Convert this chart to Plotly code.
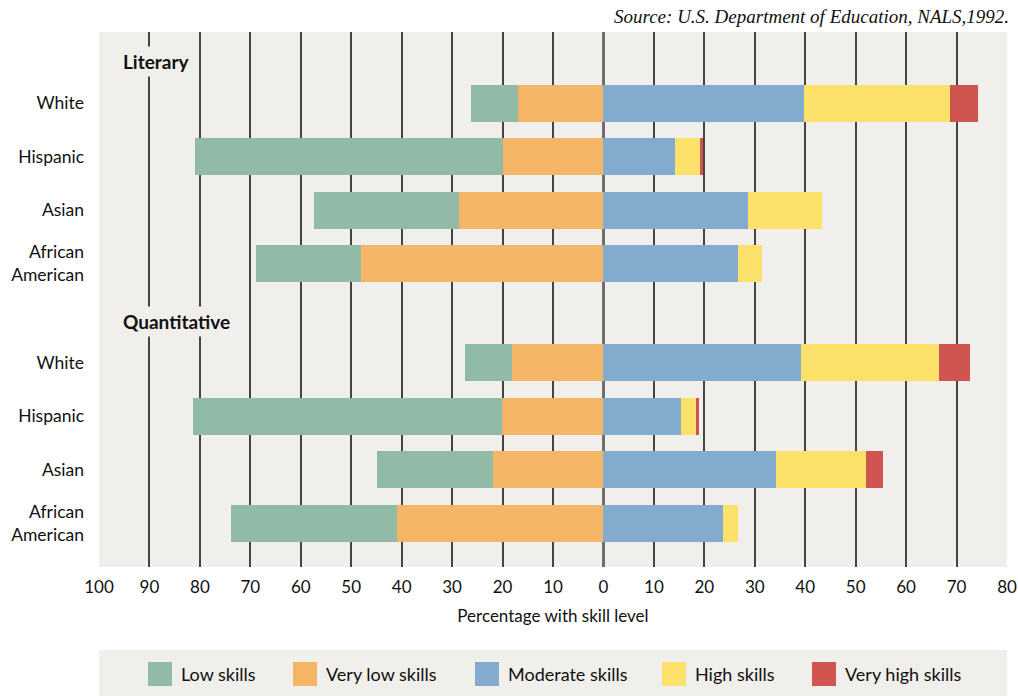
import plotly.graph_objects as go

# ---- data ----
groups = ["White", "Hispanic", "Asian", "African<br>American"]
sections = ["Literary", "Quantitative"]
y_pos_lit = [1, 2, 3, 4]
y_pos_quant = [5.85, 6.85, 7.85, 8.85]

series_names = ["Low skills", "Very low skills", "Moderate skills", "High skills", "Very high skills"]
series_colors = ["#91BBA6", "#F4B567", "#82ABCE", "#FCE26A", "#D05450"]

# Literary
lit_low = [9.2, 61.0, 28.7, 20.8]
lit_very_low = [17.0, 20.0, 28.6, 48.0]
lit_moderate = [39.7, 14.2, 28.7, 26.7]
lit_high = [29.0, 5.0, 14.6, 4.7]
lit_very_high = [5.6, 0.6, 0.0, 0.0]

# Quantitative
q_low = [9.3, 61.2, 23.0, 32.9]
q_very_low = [18.1, 20.1, 21.9, 40.9]
q_moderate = [39.2, 15.4, 34.2, 23.7]
q_high = [27.4, 3.0, 17.9, 3.0]
q_very_high = [6.0, 0.6, 3.4, 0.0]

tick_vals = [-100, -90, -80, -70, -60, -50, -40, -30, -20, -10, 0, 10, 20, 30, 40, 50, 60, 70, 80]
tick_text = [str(abs(v)) for v in tick_vals]

BG = "#F0EFEB"
FONT = "Lato"

ys = y_pos_lit + y_pos_quant
low = lit_low + q_low
very_low = lit_very_low + q_very_low
moderate = lit_moderate + q_moderate
high = lit_high + q_high
very_high = lit_very_high + q_very_high

fig = go.Figure()
# negative side: very low nearest zero, then low
fig.add_trace(go.Bar(y=ys, x=[-v for v in very_low], orientation="h", name=series_names[1],
                     marker=dict(color=series_colors[1], line=dict(width=0)), width=0.69))
fig.add_trace(go.Bar(y=ys, x=[-v for v in low], orientation="h", name=series_names[0],
                     marker=dict(color=series_colors[0], line=dict(width=0)), width=0.69))
fig.add_trace(go.Bar(y=ys, x=moderate, orientation="h", name=series_names[2],
                     marker=dict(color=series_colors[2], line=dict(width=0)), width=0.69))
fig.add_trace(go.Bar(y=ys, x=high, orientation="h", name=series_names[3],
                     marker=dict(color=series_colors[3], line=dict(width=0)), width=0.69))
fig.add_trace(go.Bar(y=ys, x=very_high, orientation="h", name=series_names[4],
                     marker=dict(color=series_colors[4], line=dict(width=0)), width=0.69))

FW, FH = 1018, 696
L, R, T, B = 99, 1007, 32, 567   # plot area in page pixels
fig.update_layout(
    width=FW, height=FH,
    barmode="relative",
    bargap=0,
    showlegend=False,
    paper_bgcolor="white",
    plot_bgcolor=BG,
    margin=dict(l=L, r=FW - R, t=T, b=FH - B, autoexpand=False),
    font=dict(family=FONT, size=17, color="#111"),
)
fig.update_xaxes(
    range=[-100, 80],
    tickvals=tick_vals, ticktext=tick_text,
    showgrid=True, gridcolor="#444", gridwidth=1.5,
    zeroline=True, zerolinecolor="#6e6e6e", zerolinewidth=2.5,
    ticks="", ticklabelstandoff=8, ticklabeloverflow="allow",
    tickfont=dict(family=FONT, size=17, color="#111"),
    title=dict(text="Percentage with skill level", font=dict(family=FONT, size=17, color="#111"), standoff=14),
    showline=False, fixedrange=True, automargin=False,
)
fig.update_yaxes(
    range=[9.67, -0.33],
    tickvals=ys, ticktext=groups + groups,
    showgrid=False, zeroline=False, ticks="", ticklabelstandoff=14,
    tickfont=dict(family=FONT, size=17.5, color="#111"), automargin=False,
    fixedrange=True,
)

# section headers
for name, yv in zip(sections, [0.23, 5.09]):
    fig.add_annotation(x=-96.0, y=yv, xref="x", yref="y", text="<b>" + name + "</b>",
                       showarrow=False, xanchor="left", yanchor="middle",
                       font=dict(family=FONT, size=19, color="#111"), bgcolor=BG, borderpad=3)

# page pixel -> paper helpers (paper refers to plot area)
def px(x):
    return (x - L) / (R - L)
def py(y):
    return (B - y) / (B - T)

# source
fig.add_annotation(x=px(1011), y=py(16), xref="paper", yref="paper",
                   text="<i>Source: U.S. Department of Education, NALS,1992.</i>",
                   showarrow=False, xanchor="right", yanchor="middle",
                   font=dict(family="Liberation Serif", size=19, color="#111"))

# manual legend box
fig.add_shape(type="rect", xref="paper", yref="paper", x0=px(99), x1=px(1007), y0=py(700), y1=py(650),
              fillcolor=BG, line=dict(width=0), layer="below")
swatch_x = [148, 293, 475, 662, 812]
for idx, sx in enumerate(swatch_x):
    fig.add_shape(type="rect", xref="paper", yref="paper", x0=px(sx), x1=px(sx + 24), y0=py(686), y1=py(662),
                  fillcolor=series_colors[idx], line=dict(width=0))
    fig.add_annotation(x=px(sx + 31), y=py(674), xref="paper", yref="paper", text=series_names[idx],
                       showarrow=False, xanchor="left", yanchor="middle",
                       font=dict(family=FONT, size=18, color="#111"))

fig.write_html("out.html",
               config={"displayModeBar": False},
               post_script="document.body.style.margin='0';document.body.style.overflow='hidden';")
